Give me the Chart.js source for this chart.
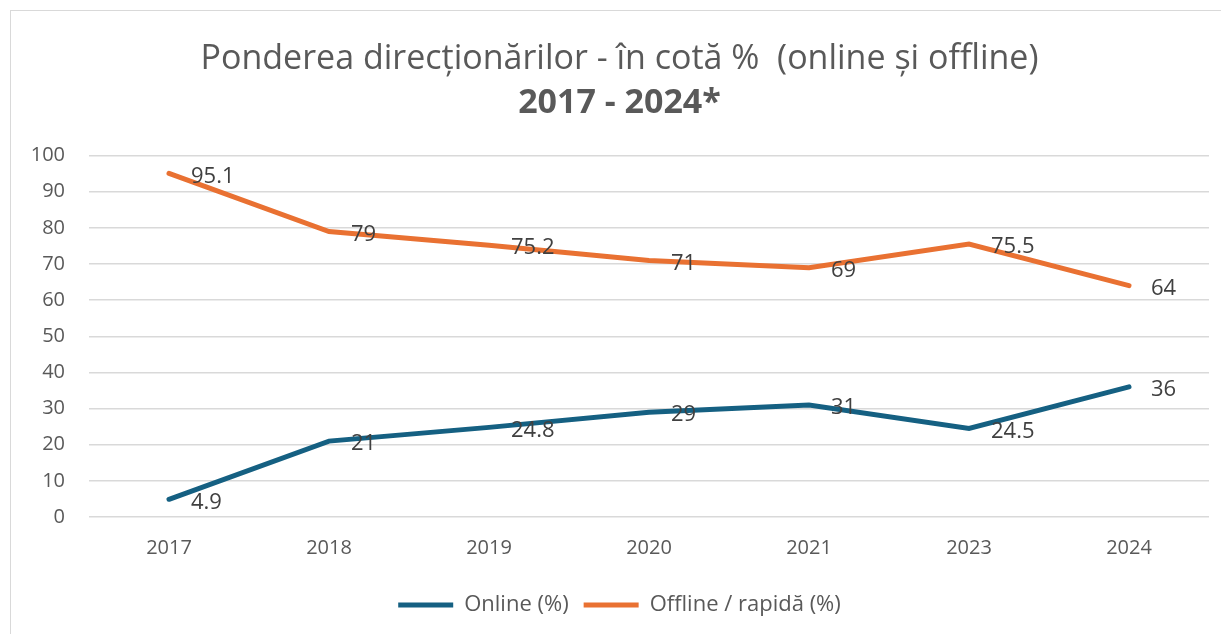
<!DOCTYPE html>
<html>
<head>
<meta charset="utf-8">
<script src="https://cdn.jsdelivr.net/npm/chart.js@4"></script>
<style>
  html, body { margin: 0; padding: 0; background: #fff; }
  #wrap { position: absolute; left: 10px; top: 10px; width: 1210px; height: 623px; border: 1px solid #d9d9d9; border-right: none; border-bottom: none; }
</style>
</head>
<body>
<div id="wrap"><canvas id="grafico"></canvas></div>
<script>
// date
const years = ["2017", "2018", "2019", "2020", "2021", "2023", "2024"];
const online = [4.9, 21, 24.8, 29, 31, 24.5, 36];
const offline = [95.1, 79, 75.2, 71, 69, 75.5, 64];
const yTicks = [0, 10, 20, 30, 40, 50, 60, 70, 80, 90, 100];

const FONT = "'Open Sans', 'Liberation Sans', Arial, sans-serif";
const GRAY = "#595959";

// etichete in dreapta punctelor
const valueLabels = {
    id: "valueLabels",
    afterDatasetsDraw(chart) {
        const c = chart.ctx;
        c.save();
        c.font = "22px " + FONT;
        c.fillStyle = "#404040";
        c.textAlign = "left";
        c.textBaseline = "middle";
        chart.data.datasets.forEach((ds, i) => {
            chart.getDatasetMeta(i).data.forEach((pt, j) => {
                c.fillText(String(ds.data[j]), pt.x + 22, pt.y + 3);
            });
        });
        c.restore();
    }
};

new Chart(document.getElementById("grafico"), {
    type: "line",
    data: {
        labels: years,
        datasets: [{
            label: "Online (%)",
            data: online,
            borderColor: "#156082",
            backgroundColor: "#156082",
            borderWidth: 5,
            borderCapStyle: "round",
            pointRadius: 0,
            tension: 0
        }, {
            label: "Offline / rapidă (%)",
            data: offline,
            borderColor: "#E97132",
            backgroundColor: "#E97132",
            borderWidth: 5,
            borderCapStyle: "round",
            pointRadius: 0,
            tension: 0
        }]
    },
    options: {
        responsive: true,
        maintainAspectRatio: false,
        animation: false,
        layout: { padding: { left: 19, right: 12, top: 28, bottom: 8 } },
        plugins: {
            title: {
                display: true,
                text: "Ponderea direcționărilor - în cotă %  (online și offline)",
                color: GRAY,
                font: { family: FONT, size: 34, weight: "normal" },
                padding: { top: 0, bottom: 3 }
            },
            subtitle: {
                display: true,
                text: "2017 - 2024*",
                color: GRAY,
                font: { family: FONT, size: 34, weight: "bold" },
                padding: { top: 0, bottom: 32 }
            },
            legend: {
                position: "bottom",
                labels: {
                    usePointStyle: true,
                    pointStyle: "line",
                    pointStyleWidth: 55,
                    color: GRAY,
                    font: { family: FONT, size: 22 },
                    padding: 15
                }
            },
            tooltip: { enabled: false }
        },
        scales: {
            y: {
                min: 0,
                max: 100,
                afterBuildTicks(axis) { axis.ticks = yTicks.map(v => ({ value: v })); },
                afterFit(axis) { axis.width = 59; },
                grid: { color: "#d9d9d9", lineWidth: 1.5, drawTicks: false },
                border: { display: false },
                ticks: { color: GRAY, font: { family: FONT, size: 20 }, padding: 24 }
            },
            x: {
                offset: true,
                grid: { display: false, drawTicks: false },
                border: { display: false },
                ticks: { color: GRAY, font: { family: FONT, size: 20 }, padding: 19 }
            }
        }
    },
    plugins: [valueLabels]
});
</script>
</body>
</html>
